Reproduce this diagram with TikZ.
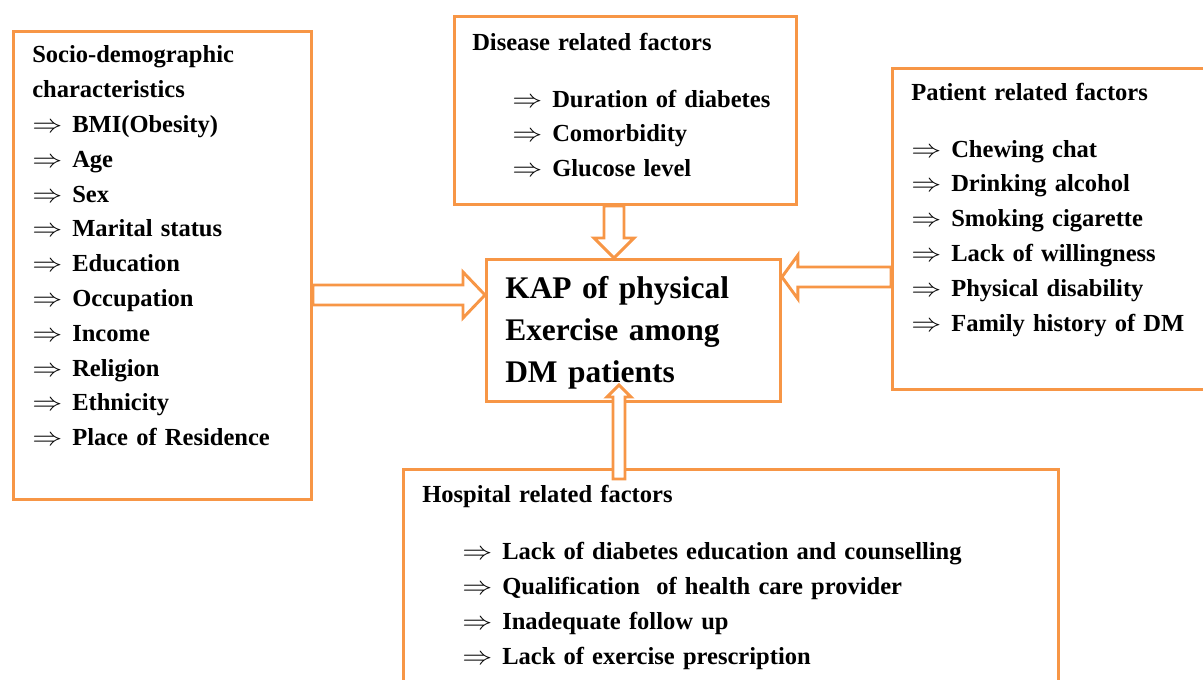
\documentclass[tikz,border=0pt]{standalone}
\usepackage{graphicx}
\usepackage{fontspec}
\setmainfont{Liberation Serif}
\usetikzlibrary{calc}
\definecolor{boxorange}{RGB}{247,150,70}
\newcommand{\itm}[1]{\makebox[30pt][l]{\scalebox{1.3}[1.1]{$\Rightarrow$}}#1}
\tikzset{
  frame/.style={draw=boxorange, line width=2.2pt, anchor=north west, inner sep=0pt},
  txt/.style={anchor=base west, inner sep=0pt, align=left, text width=20cm,
    font=\bfseries\fontsize{18.4}{26.1}\selectfont},
  hollow/.style={draw=boxorange, line width=2.2pt, fill=white, line join=miter}
}
\begin{document}
\begin{tikzpicture}[x=0.75pt,y=-0.75pt]
\clip (0,0) rectangle (1203,680);
% frames
\node[frame, minimum width=223.5pt, minimum height=351pt] (soc) at (12,30) {};
\node[frame, minimum width=256.5pt, minimum height=141pt] (dis) at (453,15) {};
\node[frame, minimum width=247.5pt, minimum height=240.75pt] (pat) at (891,67) {};
\node[frame, minimum width=220.5pt, minimum height=106.5pt] (kap) at (485,258) {};
\node[frame, minimum width=491.25pt, minimum height=172.5pt] (hos) at (402,468) {};
% texts
\node[txt] (socT) at (32,63) {Socio-demographic\\characteristics\\
  \itm{BMI(Obesity)}\\\itm{Age}\\\itm{Sex}\\\itm{Marital status}\\
  \itm{Education}\\\itm{Occupation}\\\itm{Income}\\\itm{Religion}\\
  \itm{Ethnicity}\\\itm{Place of Residence}};
\node[txt] (disT) at (472,51) {Disease related factors\\[16pt]
  \hspace*{30pt}\itm{Duration of diabetes}\\
  \hspace*{30pt}\itm{Comorbidity}\\
  \hspace*{30pt}\itm{Glucose level}};
\node[txt] (patT) at (911,101) {Patient related factors\\[16pt]
  \itm{Chewing chat}\\\itm{Drinking alcohol}\\\itm{Smoking cigarette}\\
  \itm{Lack of willingness}\\\itm{Physical disability}\\\itm{Family history of DM}};
\node[txt, font=\bfseries\fontsize{23.6}{31.5}\selectfont] (kapT) at (505,299)
  {KAP of physical\\Exercise among\\DM patients};
\node[txt] (hosT) at (422,503) {Hospital related factors\\[16.5pt]
  \hspace*{30pt}\itm{Lack of diabetes education and counselling}\\
  \hspace*{30pt}\itm{Qualification~ of health care provider}\\
  \hspace*{30pt}\itm{Inadequate follow up}\\
  \hspace*{30pt}\itm{Lack of exercise prescription}};
% hollow arrows
\coordinate (tl) at (kap.west |- 0,295);
\coordinate (sl) at (soc.east |- tl);
\draw[hollow] ($(sl)+(0,-10)$) -- ($(tl)+(-22,-10)$) -- ($(tl)+(-22,-23)$) -- (tl)
  -- ($(tl)+(-22,23)$) -- ($(tl)+(-22,10)$) -- ($(sl)+(0,10)$) -- cycle;
\coordinate (tt) at (614,0 |- kap.north);
\coordinate (st) at (tt |- dis.south);
\draw[hollow] ($(st)+(-10,0)$) -- ($(tt)+(-10,-20)$) -- ($(tt)+(-20,-20)$) -- (tt)
  -- ($(tt)+(20,-20)$) -- ($(tt)+(10,-20)$) -- ($(st)+(10,0)$) -- cycle;
\coordinate (tr) at (kap.east |- 0,277);
\coordinate (sr) at (pat.west |- tr);
\draw[hollow] ($(sr)+(0,-10)$) -- ($(tr)+(16,-10)$) -- ($(tr)+(16,-22)$) -- (tr)
  -- ($(tr)+(16,22)$) -- ($(tr)+(16,10)$) -- ($(sr)+(0,10)$) -- cycle;
\coordinate (tb) at (619,385);
\coordinate (sb) at ($(tb |- hos.north)+(0,11)$);
\draw[hollow] ($(sb)+(-6,0)$) -- ($(tb)+(-6,12)$) -- ($(tb)+(-12,12)$) -- (tb)
  -- ($(tb)+(12,12)$) -- ($(tb)+(6,12)$) -- ($(sb)+(6,0)$) -- cycle;
\end{tikzpicture}
\end{document}
